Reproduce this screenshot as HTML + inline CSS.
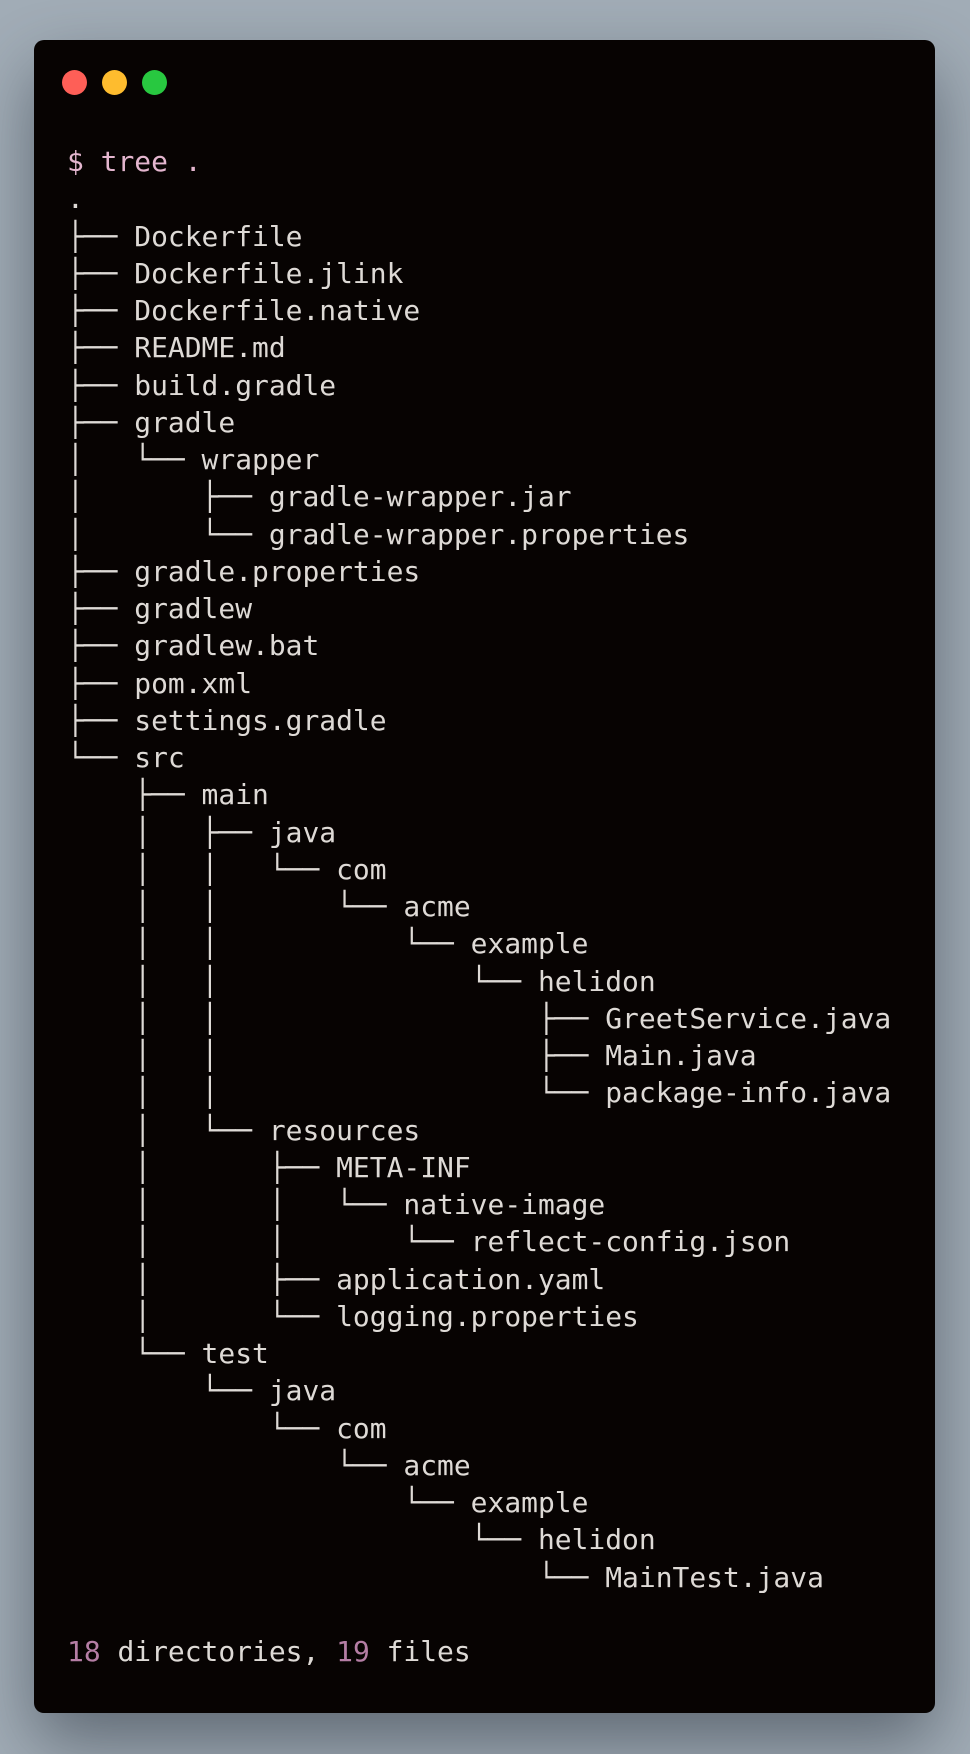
<!DOCTYPE html>
<html><head><meta charset="utf-8"><style>
html,body{margin:0;padding:0;}
body{width:970px;height:1754px;background:#a2adb7;position:relative;overflow:hidden;}
.win{position:absolute;left:34px;top:40px;width:901px;height:1673px;background:#070302;border-radius:10px;box-shadow:0 30px 70px rgba(40,50,60,0.55);}
.dot{position:absolute;top:30px;width:25px;height:25px;border-radius:50%;}
pre{position:absolute;left:33px;top:103px;margin:0;font-family:"DejaVu Sans Mono","Liberation Mono",monospace;font-size:27.95px;line-height:37.25px;color:#dedad6;}
.p{color:#e4b6cf}.n{color:#b57ea5}
</style></head><body>
<div class="win">
<div class="dot" style="left:28px;background:#fe5f57"></div>
<div class="dot" style="left:68px;background:#febc2e"></div>
<div class="dot" style="left:108px;background:#28c840"></div>
<pre><span class="p">$ tree .</span>
.
├── Dockerfile
├── Dockerfile.jlink
├── Dockerfile.native
├── README.md
├── build.gradle
├── gradle
│   └── wrapper
│       ├── gradle-wrapper.jar
│       └── gradle-wrapper.properties
├── gradle.properties
├── gradlew
├── gradlew.bat
├── pom.xml
├── settings.gradle
└── src
    ├── main
    │   ├── java
    │   │   └── com
    │   │       └── acme
    │   │           └── example
    │   │               └── helidon
    │   │                   ├── GreetService.java
    │   │                   ├── Main.java
    │   │                   └── package-info.java
    │   └── resources
    │       ├── META-INF
    │       │   └── native-image
    │       │       └── reflect-config.json
    │       ├── application.yaml
    │       └── logging.properties
    └── test
        └── java
            └── com
                └── acme
                    └── example
                        └── helidon
                            └── MainTest.java

<span class="n">18</span> directories, <span class="n">19</span> files</pre>
</div>
</body></html>
